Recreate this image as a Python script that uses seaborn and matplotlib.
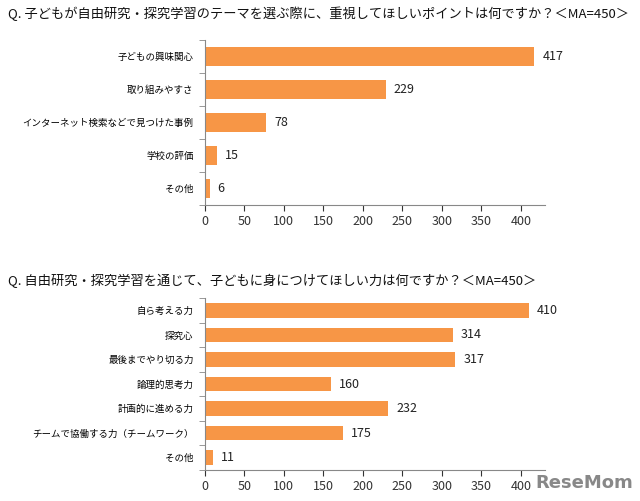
import matplotlib
matplotlib.use("Agg")
import matplotlib.pyplot as plt
import seaborn as sns
import pandas as pd
import numpy as np

plt.rcParams["font.family"] = ["Noto Sans CJK JP", "DejaVu Sans"]

title1 = "Q. 子どもが自由研究・探究学習のテーマを選ぶ際に、重視してほしいポイントは何ですか？＜MA=450＞"
cats1 = ["子どもの興味関心", "取り組みやすさ", "インターネット検索などで見つけた事例", "学校の評価", "その他"]
vals1 = [417, 229, 78, 15, 6]

title2 = "Q. 自由研究・探究学習を通じて、子どもに身につけてほしい力は何ですか？＜MA=450＞"
cats2 = ["自ら考える力", "探究心", "最後までやり切る力", "論理的思考力", "計画的に進める力", "チームで協働する力（チームワーク）", "その他"]
vals2 = [410, 314, 317, 160, 232, 175, 11]

ticks = [0, 50, 100, 150, 200, 250, 300, 350, 400]
color = "#F79646"

fig = plt.figure(figsize=(6.4, 5.01), dpi=100)
ax1 = fig.add_axes([0.320, 0.591, 0.531, 0.329])
ax2 = fig.add_axes([0.320, 0.062, 0.531, 0.343])

for ax, cats, vals, title, ty in [(ax1, cats1, vals1, title1, 0.972), (ax2, cats2, vals2, title2, 0.44)]:
    df = pd.DataFrame({"cat": cats, "val": vals})
    sns.barplot(data=df, x="val", y="cat", color=color, saturation=1, width=0.6, ax=ax, orient="h")
    ax.set_xlim(0, 430)
    ax.set_ylim(len(cats) - 0.5, -0.5)
    ax.set_xticks(ticks)
    ax.tick_params(axis="x", labelsize=9, colors="#333333", length=4, direction="out")
    ax.tick_params(axis="y", labelsize=6.8, length=0, pad=8)
    ax.set_yticks(np.arange(-0.5, len(cats), 1), minor=True)
    ax.tick_params(axis="y", which="minor", length=4, direction="out", color="#888888")
    ax.set_xlabel("")
    ax.set_ylabel("")
    for s in ["top", "right"]:
        ax.spines[s].set_visible(False)
    for s in ["left", "bottom"]:
        ax.spines[s].set_color("#888888")
    for i, v in enumerate(vals):
        ax.text(v + 10, i, str(v), va="center", ha="left", fontsize=9, color="#222222")
    fig.text(0.012, ty, title, fontsize=9.5, ha="left", va="center", color="#111111")

fig.text(0.99, 0.035, "ReseMom", fontsize=13, fontweight="bold", color="#888888", ha="right", va="center", family="DejaVu Sans")

fig.savefig("out.png", dpi=100, facecolor="white")
